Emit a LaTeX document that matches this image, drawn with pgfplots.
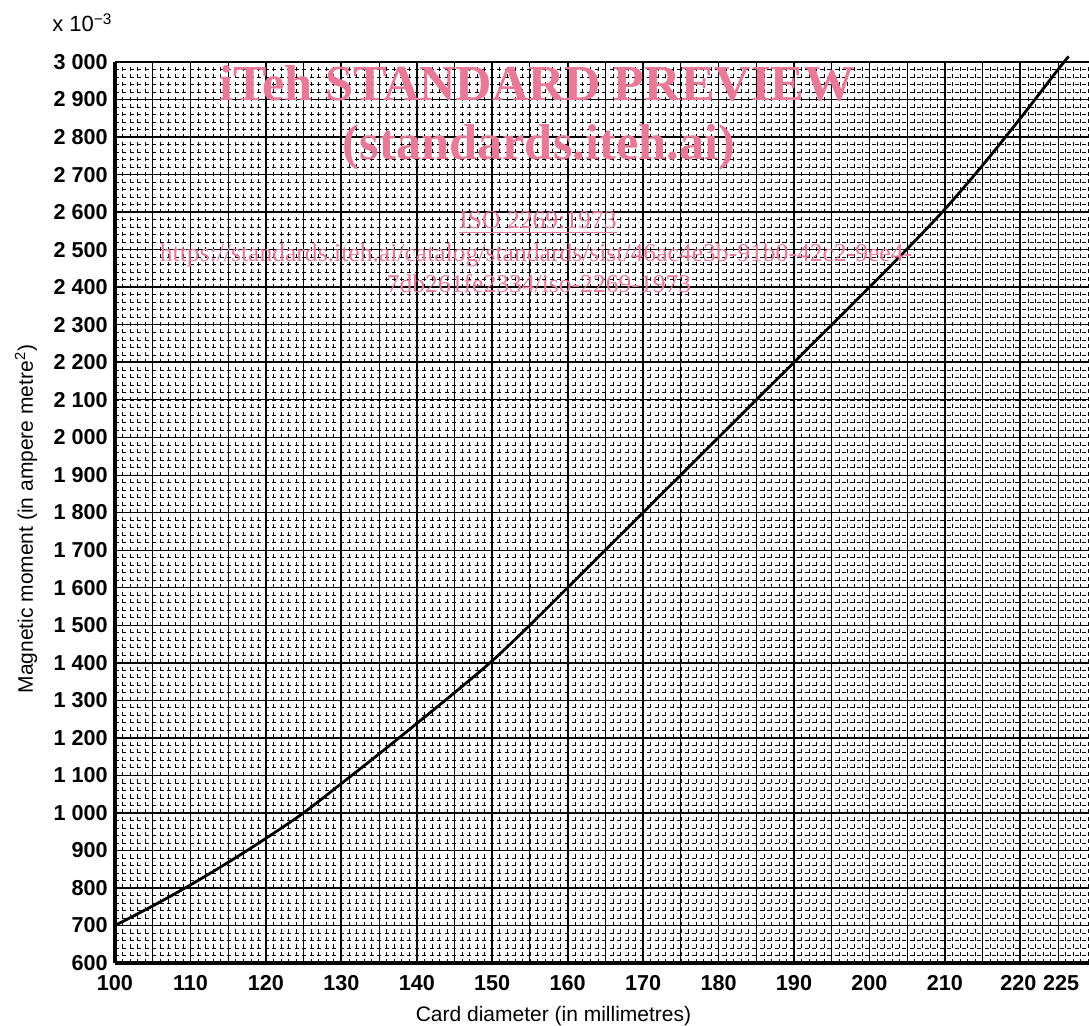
\documentclass[border=0pt]{standalone}
\usepackage{fontspec}
\setmainfont{Liberation Sans}
\newfontfamily\wmfont{Liberation Serif}
\usepackage{pgfplots}
\pgfplotsset{compat=1.18}
\definecolor{wm}{RGB}{232,122,152}
\begin{document}
\begin{tikzpicture}
\useasboundingbox (-57.5pt,-31pt) rectangle (487pt,481.5pt);
\begin{axis}[
  at={(0,0)}, anchor=south west, scale only axis,
  width=487pt, height=450.5pt,
  xmin=100, xmax=229.1, ymin=600, ymax=3000,
  clip=false,
  axis lines=left,
  axis line style={-, line width=1.6pt},
  xtick={100,105,...,225},
  xticklabels={100,,110,,120,,130,,140,,150,,160,,170,,180,,190,,200,,210,,\hspace*{-2pt}220,225\hspace*{-3pt}},
  ytick={600,700,...,3000},
  minor xtick={101,102,...,229},
  minor ytick={620,640,...,2980},
  extra x ticks={100,110,...,220},
  extra x tick labels={,,,,,,,,,,,,},
  extra x tick style={grid=major, major grid style={black, line width=0.9pt}},
  extra y ticks={600,800,...,3000},
  extra y tick labels={,,,,,,,,,,,,},
  extra y tick style={grid=major, major grid style={black, line width=0.9pt}},
  grid=both,
  major grid style={black, line width=0.45pt},
  minor grid style={black, line width=0.3pt, dash pattern=on 1.8pt off 1.95pt},
  tick style={draw=none},
  /pgf/number format/assume math mode=true,
  /pgf/number format/1000 sep={\ },
  ticklabel style={font=\fontsize{10.8}{12}\selectfont\bfseries},
  xticklabel style={yshift=-0.5pt},
  yticklabel style={xshift=2pt},
]
\addplot[black, line width=1.4pt, smooth] coordinates {
  (100,700) (105,752) (110,808) (115,868) (120,932) (125,1000)
  (130,1078) (135,1157) (140,1238) (145,1320) (150,1405) (155,1500)
  (160,1600) (165,1700) (170,1800) (175,1900) (180,2000) (185,2100)
  (190,2200) (195,2300) (200,2400) (205,2502) (210,2608) (215,2725)
  (220,2850) (225,2980) (226.4,3015)
};
\end{axis}
% watermark
\node[anchor=base, text=wm, font=\wmfont\bfseries\fontsize{25.2}{28}\selectfont] at (211pt,431pt) {iTeh STANDARD PREVIEW};
\node[anchor=base, text=wm, font=\wmfont\bfseries\fontsize{25.2}{28}\selectfont] at (212pt,401.5pt) {(standards.iteh.ai)};
\node[anchor=base, text=wm, font=\wmfont\fontsize{12.8}{14}\selectfont] at (211.5pt,367pt) {\underline{ISO 2269:1973}};
\node[anchor=base, text=wm, font=\wmfont\fontsize{12.8}{14}\selectfont] at (210.5pt,350.5pt) {https://standards.iteh.ai/catalog/standards/sist/46ac4e3b-91b0-42c2-9ee4-};
\node[anchor=base, text=wm, font=\wmfont\fontsize{12.8}{14}\selectfont] at (212pt,335pt) {7db261fe2334/iso-2269-1973};
% labels
\node[anchor=base, font=\fontsize{10.5}{12}\selectfont] at (219.25pt,-29pt) {Card diameter (in millimetres)};
\node[anchor=base, rotate=90, font=\fontsize{10.5}{12}\selectfont] at (-41pt,222pt) {Magnetic moment (in ampere metre\textsuperscript{2})};
\node[anchor=base west, inner sep=0pt, font=\fontsize{11}{12}\selectfont] at (-31.5pt,465.5pt) {x 10\textsuperscript{−3}};
\end{tikzpicture}
\end{document}
